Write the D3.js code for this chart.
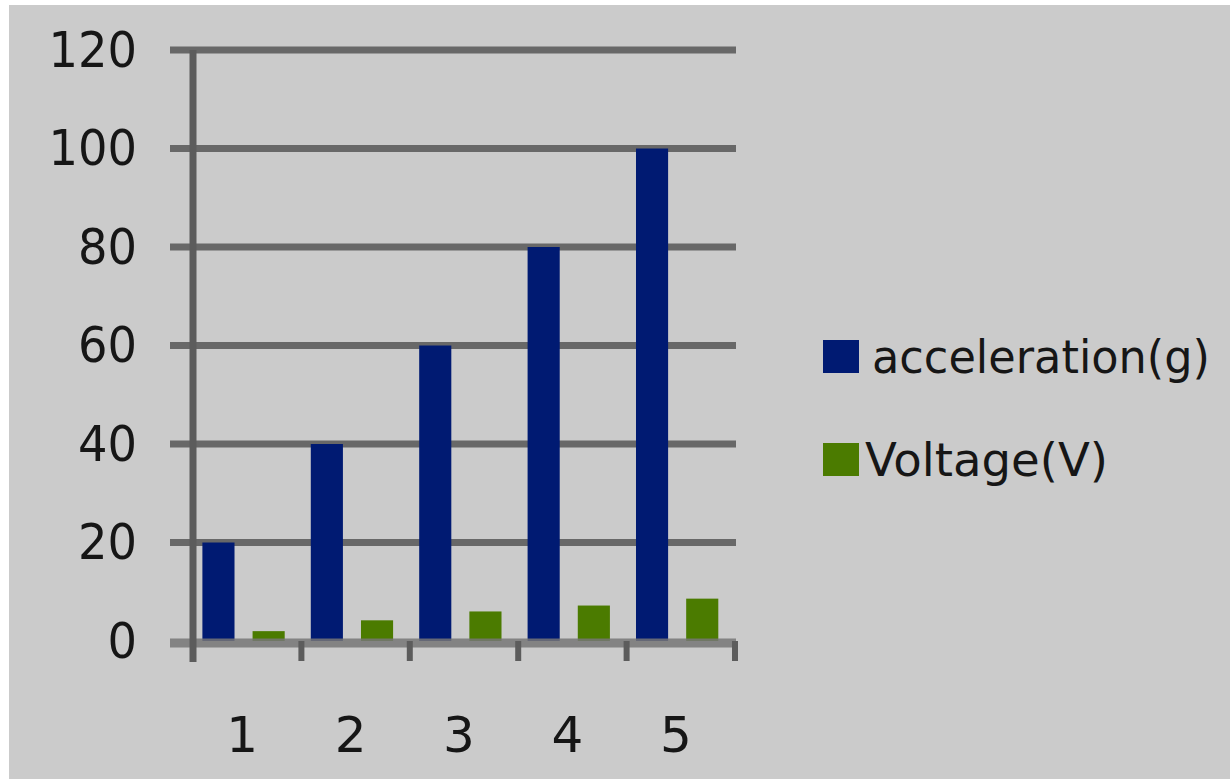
<!DOCTYPE html>
<html>
<head>
<meta charset="utf-8">
<script src="https://cdn.jsdelivr.net/npm/d3@7"></script>
<style>
  html, body { margin: 0; padding: 0; background: #fff; }
  svg { display: block; }
  text { font-family: "DejaVu Sans", Verdana, sans-serif; fill: #161616; }
</style>
</head>
<body>
<svg id="chart"></svg>
<script>
const categories = ['1', '2', '3', '4', '5'];
const acceleration = [20, 40, 60, 80, 100];
const voltage = [2, 4.2, 6, 7.2, 8.6];
const yTicks = [0, 20, 40, 60, 80, 100, 120];
const seriesNames = ['acceleration(g)', 'Voltage(V)'];
const seriesColors = ['#001a72', '#4b7b00'];

function drawChart() {
    const width = 1230;
    const height = 779;
    const fontSize = 50;
    const gridColor = '#686868';

    let svg = d3.select('#chart')
                .attr('width', width)
                .attr('height', height);

    // grey panel, white strip at top and left
    svg.append('rect')
        .attr('x', 9).attr('y', 5)
        .attr('width', width - 9).attr('height', height - 5)
        .attr('fill', '#cbcbcb');

    let y = d3.scaleLinear()
                .domain([0, 120])
                .range([641, 50]);
    let x0 = d3.scaleBand()
                .domain(categories)
                .range([193, 735]);
    let x1 = d3.scaleBand()
                .domain(seriesNames)
                .range([0, x0.bandwidth()])
                .paddingInner(0.36)
                .paddingOuter(0.26)
                .align(0.36);

    // gridlines
    svg.append('g')
        .selectAll('line')
        .data(yTicks.filter(d => d > 0))
        .enter()
            .append('line')
            .attr('x1', 170).attr('x2', 736)
            .attr('y1', d => y(d)).attr('y2', d => y(d))
            .attr('stroke', gridColor)
            .attr('stroke-width', 7);

    // bars
    let rows = categories.map((c, i) => ({cat: c, values: [acceleration[i], voltage[i]]}));
    svg.append('g')
        .selectAll('g')
        .data(rows)
        .enter()
            .append('g')
            .attr('transform', d => `translate(${x0(d.cat)},0)`)
        .selectAll('rect')
        .data(d => d.values.map((v, k) => ({name: seriesNames[k], value: v, k: k})))
        .enter()
            .append('rect')
            .attr('x', d => x1(d.name))
            .attr('width', x1.bandwidth())
            .attr('y', d => y(d.value))
            .attr('height', d => y(0) - y(d.value))
            .attr('fill', d => seriesColors[d.k]);

    // y axis labels
    let yAxis = d3.axisLeft(y)
                    .tickValues(yTicks)
                    .tickSize(0)
                    .tickPadding(56);
    let gy = svg.append('g')
                .attr('transform', 'translate(193,0)')
                .call(yAxis);
    gy.select('.domain').remove();
    gy.selectAll('text')
        .attr('font-size', fontSize)
        .attr('font-family', '"DejaVu Sans", Verdana, sans-serif')
        .attr('fill', '#161616')
        .attr('textLength', d => String(d).length * 29.5)
        .attr('lengthAdjust', 'spacingAndGlyphs');

    // axis lines
    svg.append('line')
        .attr('x1', 170).attr('x2', 736)
        .attr('y1', y(0) + 2).attr('y2', y(0) + 2)
        .attr('stroke', '#777')
        .attr('stroke-opacity', 0.85)
        .attr('stroke-width', 9);
    svg.append('line')
        .attr('x1', 193).attr('x2', 193)
        .attr('y1', y(120)).attr('y2', 662)
        .attr('stroke', '#5c5c5c')
        .attr('stroke-width', 7);

    // category ticks
    svg.append('g')
        .selectAll('line')
        .data(categories)
        .enter()
            .append('line')
            .attr('x1', d => x0(d) + x0.bandwidth())
            .attr('x2', d => x0(d) + x0.bandwidth())
            .attr('y1', y(0))
            .attr('y2', 661)
            .attr('stroke', '#5c5c5c')
            .attr('stroke-width', 6);

    // x labels
    let xAxis = d3.axisBottom(x0).tickSize(0).tickPadding(0);
    let gx = svg.append('g')
                .attr('transform', 'translate(-5,714)')
                .call(xAxis);
    gx.select('.domain').remove();
    gx.selectAll('text')
        .attr('font-size', fontSize)
        .attr('font-family', '"DejaVu Sans", Verdana, sans-serif')
        .attr('fill', '#161616')
        .attr('dy', '0.75em');

    // legend
    const legendWidths = [338, 243];
    let legend = svg.append('g')
                    .selectAll('g')
                    .data(seriesNames)
                    .enter()
                        .append('g')
                        .attr('transform', (d, i) => `translate(823,${340 + i * 103})`);
    legend.append('rect')
        .attr('width', 36)
        .attr('height', 33)
        .attr('fill', (d, i) => seriesColors[i]);
    legend.append('text')
        .attr('x', (d, i) => i === 0 ? 49 : 42)
        .attr('y', 33)
        .attr('font-size', 47)
        .attr('textLength', (d, i) => legendWidths[i])
        .attr('lengthAdjust', 'spacingAndGlyphs')
        .text(d => d);
}

drawChart();
</script>
</body>
</html>
